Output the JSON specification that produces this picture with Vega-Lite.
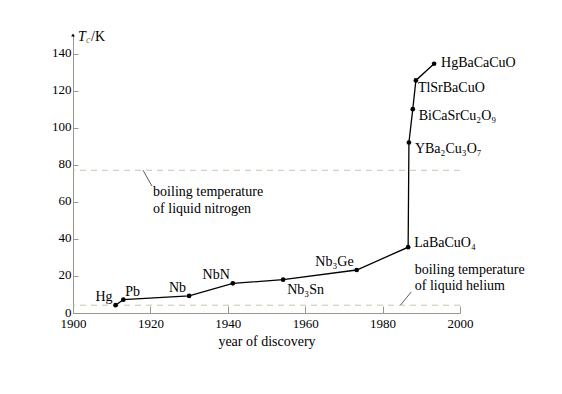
{
  "$schema": "https://vega.github.io/schema/vega-lite/v6.json",
  "autosize": "none",
  "padding": {"left": 73, "top": 35, "right": 102, "bottom": 81},
  "width": 387,
  "height": 278,
  "background": "white",
  "config": {
    "view": {"stroke": null},
    "font": "Liberation Serif",
    "text": {"font": "Liberation Serif", "fontSize": 14, "color": "black"},
    "axis": {
      "grid": false, "labelBound": false, "labelFlush": false,
      "domainColor": "#9a9888", "tickColor": "#9a9888",
      "labelFont": "Liberation Serif", "labelFontSize": 13, "labelColor": "black",
      "titleFont": "Liberation Serif", "titleFontSize": 14, "titleFontWeight": "normal", "titleColor": "black"
    }
  },
  "datasets": {
    "sc": [
      {"label": "Hg", "year": 1911, "tc": 4.2},
      {"label": "Pb", "year": 1913, "tc": 7.2},
      {"label": "Nb", "year": 1930, "tc": 9.2},
      {"label": "NbN", "year": 1941.3, "tc": 16},
      {"label": "Nb₃Sn", "year": 1954.3, "tc": 18},
      {"label": "Nb₃Ge", "year": 1973.3, "tc": 23.2},
      {"label": "LaBaCuO₄", "year": 1986.6, "tc": 35.5},
      {"label": "YBa₂Cu₃O₇", "year": 1986.8, "tc": 92},
      {"label": "BiCaSrCu₂O₉", "year": 1987.8, "tc": 110},
      {"label": "TlSrBaCuO", "year": 1988.6, "tc": 125.5},
      {"label": "HgBaCaCuO", "year": 1993.3, "tc": 134.5}
    ],
    "boil": [
      {"name": "nitrogen", "tc": 77},
      {"name": "helium", "tc": 4.2}
    ],
    "leader": [
      {"x": 1918.1, "y": 77, "x2": 1920.4, "y2": 68.5},
      {"x": 1984.6, "y": 4.2, "x2": 1987.4, "y2": 11.4}
    ],
    "notes": [
      {"x": 1920.7, "y": 65.5, "text": "boiling temperature"},
      {"x": 1920.7, "y": 56.3, "text": "of liquid nitrogen"},
      {"x": 1988.3, "y": 23.1, "text": "boiling temperature"},
      {"x": 1988.3, "y": 14.5, "text": "of liquid helium"}
    ],
    "origin": [{"year": 1900, "tc": 150}]
  },
  "layer": [
    {
      "data": {"name": "sc"},
      "mark": {"type": "line", "color": "black", "strokeWidth": 1.3},
      "encoding": {
        "x": {
          "field": "year", "type": "quantitative",
          "scale": {"domain": [1900, 2000], "nice": false, "zero": false},
          "axis": {
            "values": [1900, 1920, 1940, 1960, 1980, 2000],
            "labelOverlap": false,
            "format": "d", "tickSize": -7, "labelPadding": 11,
            "title": "year of discovery", "titlePadding": 4
          }
        },
        "y": {
          "field": "tc", "type": "quantitative",
          "scale": {"domain": [0, 150], "nice": false},
          "axis": {
            "values": [0, 20, 40, 60, 80, 100, 120, 140],
            "labelOverlap": false, "tickCount": 8, "labelOffset": -1,
            "tickSize": -5, "labelPadding": 7, "title": null
          }
        }
      }
    },
    {
      "data": {"name": "boil"},
      "mark": {"type": "rule", "color": "#bdb69a", "strokeDash": [6, 5], "strokeWidth": 0.8},
      "encoding": {
        "y": {"field": "tc", "type": "quantitative"}
      }
    },
    {
      "data": {"name": "sc"},
      "mark": {"type": "point", "filled": true, "color": "black", "size": 22, "opacity": 1},
      "encoding": {
        "x": {"field": "year", "type": "quantitative"},
        "y": {"field": "tc", "type": "quantitative"}
      }
    },
    {
      "data": {"name": "leader"},
      "mark": {"type": "rule", "color": "#333333", "strokeWidth": 0.8},
      "encoding": {
        "x": {"field": "x", "type": "quantitative"},
        "y": {"field": "y", "type": "quantitative"},
        "x2": {"field": "x2"},
        "y2": {"field": "y2"}
      }
    },
    {
      "data": {"name": "notes"},
      "mark": {"type": "text", "align": "left", "baseline": "middle"},
      "encoding": {
        "x": {"field": "x", "type": "quantitative"},
        "y": {"field": "y", "type": "quantitative"},
        "text": {"field": "text"}
      }
    },
    {
      "data": {"name": "sc"},
      "transform": [{"filter": {"field": "label", "oneOf": ["Hg", "Nb", "NbN", "Nb₃Ge"]}}],
      "mark": {"type": "text", "align": "right", "baseline": "middle", "dx": -3, "dy": -8},
      "encoding": {
        "x": {"field": "year", "type": "quantitative"},
        "y": {"field": "tc", "type": "quantitative"},
        "text": {"field": "label"}
      }
    },
    {
      "data": {"name": "sc"},
      "transform": [{"filter": {"field": "label", "equal": "Pb"}}],
      "mark": {"type": "text", "align": "left", "baseline": "middle", "dx": 2, "dy": -8},
      "encoding": {
        "x": {"field": "year", "type": "quantitative"},
        "y": {"field": "tc", "type": "quantitative"},
        "text": {"field": "label"}
      }
    },
    {
      "data": {"name": "sc"},
      "transform": [{"filter": {"field": "label", "equal": "Nb₃Sn"}}],
      "mark": {"type": "text", "align": "left", "baseline": "middle", "dx": 4, "dy": 10},
      "encoding": {
        "x": {"field": "year", "type": "quantitative"},
        "y": {"field": "tc", "type": "quantitative"},
        "text": {"field": "label"}
      }
    },
    {
      "data": {"name": "sc"},
      "transform": [{"filter": {"field": "label", "equal": "LaBaCuO₄"}}],
      "mark": {"type": "text", "align": "left", "baseline": "middle", "dx": 6, "dy": -4},
      "encoding": {
        "x": {"field": "year", "type": "quantitative"},
        "y": {"field": "tc", "type": "quantitative"},
        "text": {"field": "label"}
      }
    },
    {
      "data": {"name": "sc"},
      "transform": [{"filter": {"field": "label", "oneOf": ["YBa₂Cu₃O₇", "BiCaSrCu₂O₉"]}}],
      "mark": {"type": "text", "align": "left", "baseline": "middle", "dx": 6, "dy": 7},
      "encoding": {
        "x": {"field": "year", "type": "quantitative"},
        "y": {"field": "tc", "type": "quantitative"},
        "text": {"field": "label"}
      }
    },
    {
      "data": {"name": "sc"},
      "transform": [{"filter": {"field": "label", "equal": "TlSrBaCuO"}}],
      "mark": {"type": "text", "align": "left", "baseline": "middle", "dx": 2, "dy": 8},
      "encoding": {
        "x": {"field": "year", "type": "quantitative"},
        "y": {"field": "tc", "type": "quantitative"},
        "text": {"field": "label"}
      }
    },
    {
      "data": {"name": "sc"},
      "transform": [{"filter": {"field": "label", "equal": "HgBaCaCuO"}}],
      "mark": {"type": "text", "align": "left", "baseline": "middle", "dx": 7, "dy": -1},
      "encoding": {
        "x": {"field": "year", "type": "quantitative"},
        "y": {"field": "tc", "type": "quantitative"},
        "text": {"field": "label"}
      }
    },
    {
      "data": {"name": "origin"},
      "mark": {"type": "point", "shape": "triangle-up", "filled": true, "color": "black", "size": 14, "opacity": 1},
      "encoding": {
        "x": {"field": "year", "type": "quantitative"},
        "y": {"field": "tc", "type": "quantitative"}
      }
    },
    {
      "data": {"name": "origin"},
      "mark": {"type": "text", "align": "left", "baseline": "middle", "dx": 5, "dy": 2, "fontStyle": "italic", "fontSize": 14},
      "encoding": {
        "x": {"field": "year", "type": "quantitative"},
        "y": {"field": "tc", "type": "quantitative"},
        "text": {"value": "T"}
      }
    },
    {
      "data": {"name": "origin"},
      "mark": {"type": "text", "align": "left", "baseline": "middle", "dx": 13, "dy": 5, "fontStyle": "italic", "fontSize": 10, "color": "#8a6d1a"},
      "encoding": {
        "x": {"field": "year", "type": "quantitative"},
        "y": {"field": "tc", "type": "quantitative"},
        "text": {"value": "c"}
      }
    },
    {
      "data": {"name": "origin"},
      "mark": {"type": "text", "align": "left", "baseline": "middle", "dx": 18, "dy": 2, "fontSize": 14},
      "encoding": {
        "x": {"field": "year", "type": "quantitative"},
        "y": {"field": "tc", "type": "quantitative"},
        "text": {"value": "/K"}
      }
    }
  ]
}
